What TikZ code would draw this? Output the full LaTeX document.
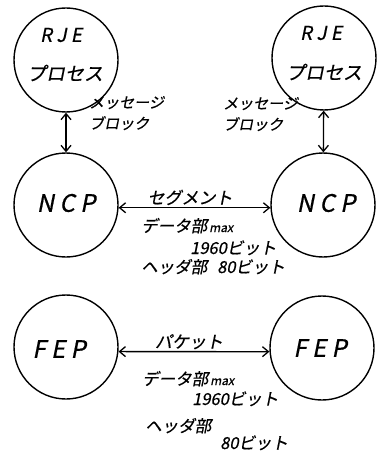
\documentclass[tikz,border=0pt]{standalone}
\usepackage{fontspec}
\newfontfamily\hand[FakeSlant=0.2,FakeBold=0.6]{Noto Sans CJK JP}
\usetikzlibrary{arrows.meta}
\begin{document}
\begin{tikzpicture}[x=1pt,y=1pt,
  proc/.style={draw,circle,line width=1.4pt,minimum size=104pt,inner sep=0pt},
  big/.style={font=\hand\fontsize{24}{28}\selectfont,inner sep=0pt},
  mid/.style={font=\hand\fontsize{19}{22}\selectfont,inner sep=0pt},
  link/.style={line width=1.3pt,{Straight Barb[length=6pt,width=10pt]}-{Straight Barb[length=6pt,width=10pt]}},
  lbl/.style={font=\hand\fontsize{16.5}{20}\selectfont,inner sep=0pt,anchor=base west,
    text height=9pt,text depth=1pt},
  msg/.style={font=\hand\fontsize{15}{21}\selectfont,inner sep=0pt,anchor=base west,align=left},
  ttl/.style={font=\hand\fontsize{17}{20}\selectfont,inner sep=0pt,anchor=base}]
\useasboundingbox (0,0) rectangle (383,-454);

% processes
\node[proc] (rje1) at (66,-60) {};
\node[proc] (rje2) at (324,-58) {};
\node[proc] (ncp1) at (66,-205) {};
\node[proc] (ncp2) at (323,-205) {};
\node[proc] (fep1) at (66,-347) {};
\node[proc] (fep2) at (322,-348) {};

% names inside the circles
\node[mid] (rje1a) at (61,-35) {R J E};
\node[mid] (rje1b) at (65,-73) {プロセス};
\node[mid] (rje2a) at (321,-33) {R J E};
\node[mid] (rje2b) at (324,-72) {プロセス};
\node[big] (ncp1t) at (66,-203) {N C P};
\node[big] (ncp2t) at (326,-203) {N C P};
\node[big] (fep1t) at (59,-349) {F E P};
\node[big] (fep2t) at (320,-348) {F E P};

% links
\draw[link] (rje1) -- (ncp1);
\draw[link] (rje2) -- (ncp2);
\draw[link] (ncp1.-3) -- (ncp2.183);
\draw[link] (fep1.-5.5) -- (fep2.184.4);

% labels
\node[msg] (m1) at (89,-129) {メッセージ\\ブロック};
\node[msg] (m2) at (223,-130) {メッセージ\\ブロック};

\node[ttl] (seg) at (190,-204) {セグメント};
\node[lbl] (sd) at (141,-232) {データ部{\fontsize{12}{12}\selectfont\,max}};
\node[lbl] (sb) at (190,-254) {1960ビット};
\node[lbl] (sh) at (141,-273) {ヘッダ部\hspace{10pt}80ビット};

\node[ttl] (pkt) at (189,-348) {パケット};
\node[lbl] (pd) at (142,-385) {データ部{\fontsize{12}{12}\selectfont\,max}};
\node[lbl] (pb) at (192,-405) {1960ビット};
\node[lbl] (ph) at (145,-432) {ヘッダ部};
\node[lbl] (pbits) at (220,-449) {80ビット};
\end{tikzpicture}
\end{document}
